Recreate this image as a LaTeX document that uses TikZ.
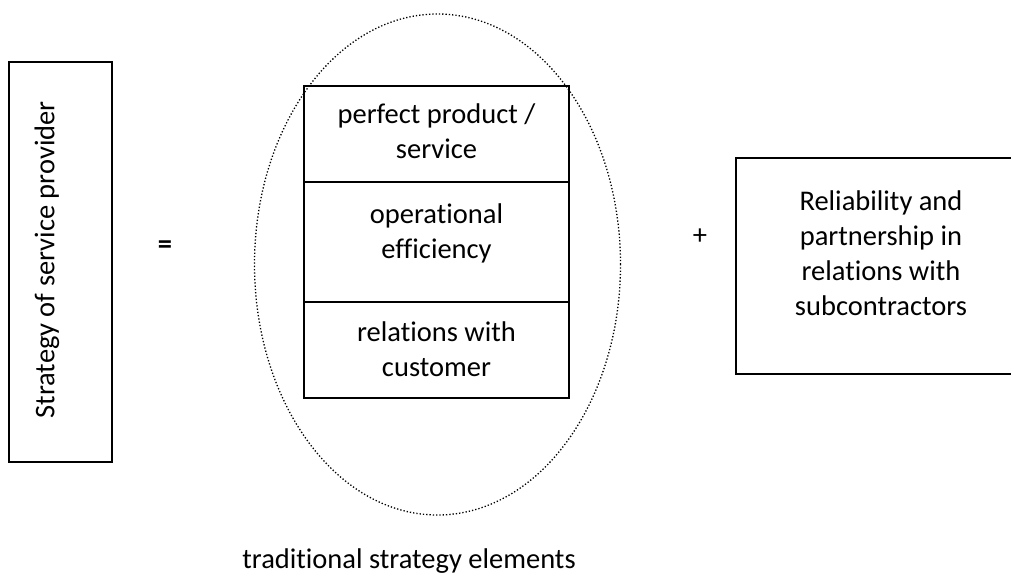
\documentclass[tikz,border=0pt]{standalone}
\usepackage{fontspec}
\setmainfont{Carlito}[Ligatures={NoCommon,NoRequired,NoContextual}]
\usetikzlibrary{positioning,shapes.geometric}
\newcommand{\bodyfont}{\fontsize{28.5}{35}\selectfont}

\begin{document}
\begin{tikzpicture}[
  x=1pt, y=-1pt,
  every node/.style={font=\bodyfont},
  box/.style={draw, line width=1.8pt, inner sep=0pt, outer sep=0pt},
  cell/.style={box, minimum width=265pt},
  txt/.style={align=center, inner sep=0pt},
  halo/.style={draw, ellipse, dotted, line width=1.3pt, inner sep=0pt,
    minimum width=366pt, minimum height=501pt}
]
\useasboundingbox (0,0) rectangle (1011,574);

% left: the strategy itself
\node[box, minimum width=103pt, minimum height=400pt] (provider) at (60.5,262) {};
\node[txt, rotate=90] (providerTxt) at (47,260) {Strategy of service provider};
\node[txt] (eq) at (165,247) {\textbf{=}};

% traditional elements inside the dotted ellipse
\node[halo] (trad) at (437.5,264.5) {};
\node[cell, minimum height=96pt, anchor=north] (product) at (436.5,86) {};
\node[cell, minimum height=120pt, below=0pt of product] (eff) {};
\node[cell, minimum height=96pt, below=0pt of eff] (cust) {};
\node[txt] (productTxt) at (436.5,131) {perfect product /\\service};
\node[txt] (effTxt) at (436.5,233) {operational\\efficiency};
\node[txt] (custTxt) at (436.5,349.5) {relations with\\customer};
\node[txt, anchor=base] (tradTxt) at (409,568) {traditional strategy elements};

% right: subcontractors
\node[txt] (plus) at (700,237) {+};
\node[box, minimum width=290pt, minimum height=216pt, anchor=north west] (sub) at (736,158) {};
\node[txt] (subTxt) at (881,253) {Reliability and\\partnership in\\relations with\\subcontractors};

\end{tikzpicture}
\end{document}
